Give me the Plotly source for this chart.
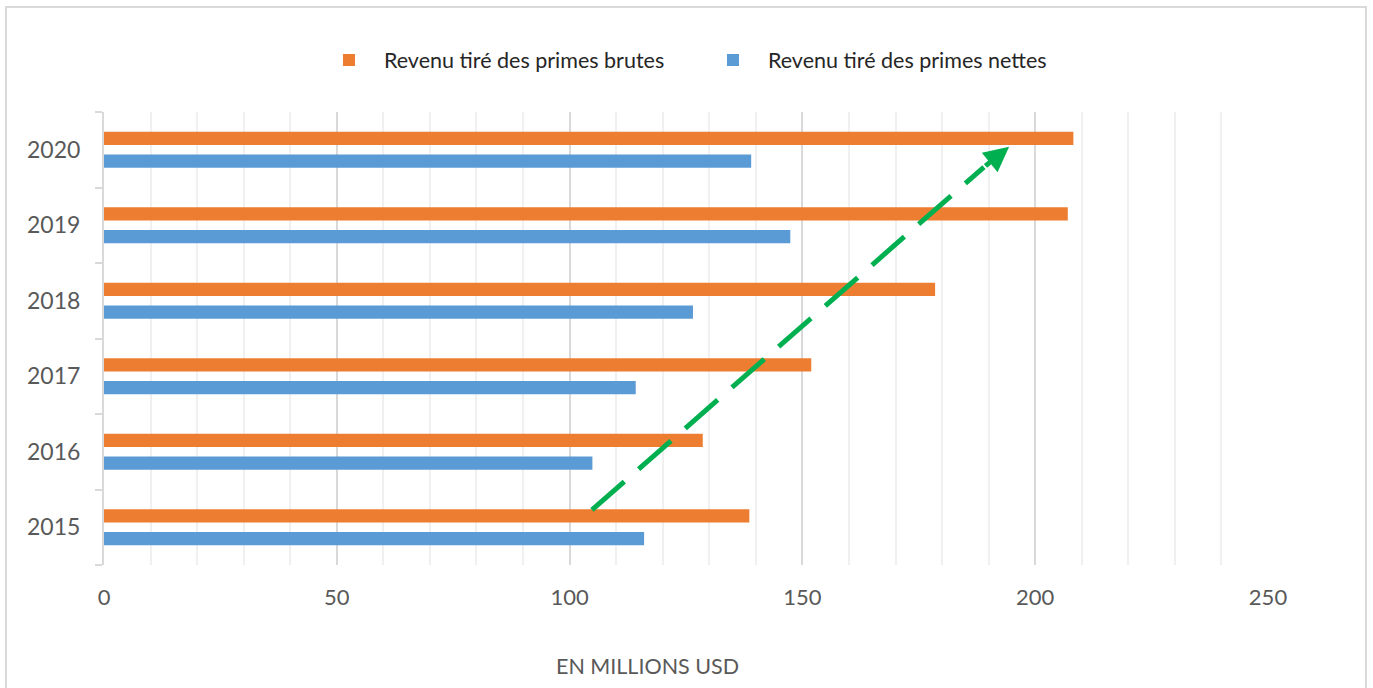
import plotly.graph_objects as go

# Revenue by year, in millions of USD
years = [2015, 2016, 2017, 2018, 2019, 2020]
primes_brutes = [138.6, 128.6, 151.9, 178.5, 207.0, 208.2]
primes_nettes = [116.0, 104.9, 114.2, 126.5, 147.4, 139.0]

name_brutes = "Revenu tiré des primes brutes"
name_nettes = "Revenu tiré des primes nettes"
axis_title = "EN MILLIONS USD"

ORANGE = "#ED7D31"
BLUE = "#5B9BD5"
GREEN = "#00B050"
FONT = "Lato"

# Trend arrow (data coordinates): tail, point just behind the head, tip
trend_tail = (104.8, 2015.23)
trend_neck = (189.0, 2019.77)
trend_tip = (194.4, 2020.04)

fig = go.Figure()

# Blue first so that orange sits above it inside each year group
fig.add_trace(go.Bar(
    y=years, x=primes_nettes, name=name_nettes, orientation="h",
    marker=dict(color=BLUE, line=dict(width=0)), legendrank=2,
))
fig.add_trace(go.Bar(
    y=years, x=primes_brutes, name=name_brutes, orientation="h",
    marker=dict(color=ORANGE, line=dict(width=0)), legendrank=1,
))

# Dashed trend line
fig.add_shape(
    type="line", xref="x", yref="y",
    x0=trend_tail[0], y0=trend_tail[1], x1=trend_neck[0], y1=trend_neck[1],
    line=dict(color=GREEN, width=5, dash="43px,19px"),
)
# Arrow head at the end of the trend line
fig.add_annotation(
    x=trend_tip[0], y=trend_tip[1], ax=trend_neck[0], ay=trend_neck[1],
    xref="x", yref="y", axref="x", ayref="y",
    text="", showarrow=True, arrowhead=2, arrowsize=1.0,
    arrowwidth=5, arrowcolor=GREEN,
)

# Axis title below the value axis
fig.add_annotation(
    x=0.4665, y=-0.223, xref="paper", yref="paper",
    text=axis_title, showarrow=False, xanchor="center", yanchor="middle",
    font=dict(family=FONT, size=21.5, color="#595959"),
)

# Light frame around the whole chart
fig.add_shape(
    type="rect", xref="paper", yref="paper",
    x0=-0.0842, x1=1.0842, y0=-0.5, y1=1.2318,
    line=dict(color="#D9D9D9", width=2), layer="below",
)

fig.update_layout(
    width=1373, height=688,
    margin=dict(l=104, r=105, t=112, b=123),
    paper_bgcolor="white", plot_bgcolor="white",
    barmode="group", bargap=0.4, bargroupgap=0.41,
    font=dict(family=FONT, color="#595959"),
    showlegend=True,
    legend=dict(
        orientation="h", x=0.1804, y=1.115, xanchor="left", yanchor="middle",
        font=dict(family=FONT, size=21.5, color="#262626"),
        itemwidth=60, entrywidth=309, entrywidthmode="pixels",
        bgcolor="rgba(0,0,0,0)",
    ),
    xaxis=dict(
        range=[0, 250], tickvals=[0, 50, 100, 150, 200, 250],
        showgrid=True, gridcolor="#D9D9D9", gridwidth=1.5,
        minor=dict(dtick=10, showgrid=True, gridcolor="#F0F0F0", gridwidth=1.5),
        zeroline=False, showline=False, ticks="",
        ticklabelstandoff=17,
        tickfont=dict(family=FONT, size=22, color="#595959"),
    ),
    yaxis=dict(
        range=[2014.5, 2020.5], tickvals=years, ticktext=[str(y) for y in years],
        showgrid=False, zeroline=False,
        showline=True, linecolor="#D9D9D9", linewidth=2,
        ticks="", ticklabelstandoff=17,
        minor=dict(tickvals=[2014.5 + i for i in range(7)], ticks="outside",
                   ticklen=7, tickcolor="#D9D9D9", tickwidth=2),
        tickfont=dict(family=FONT, size=23, color="#595959"),
    ),
)

fig.write_html("out.html")
